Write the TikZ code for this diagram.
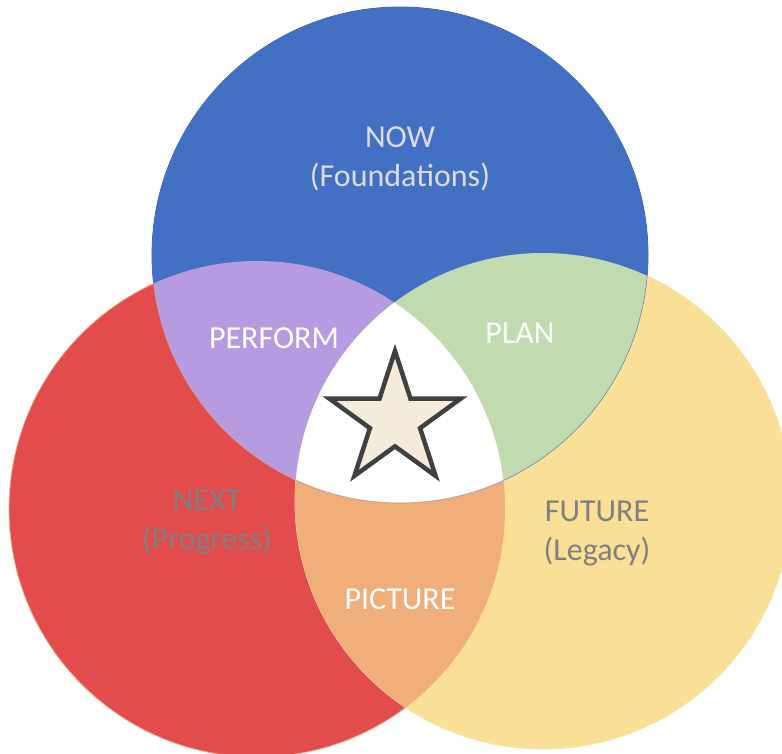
\documentclass[tikz,border=0pt]{standalone}
\usepackage{fontspec}
\setmainfont{Carlito}
\usetikzlibrary{shapes.geometric}
\definecolor{cblue}{HTML}{4470C4}
\definecolor{cblueline}{HTML}{3A62AE}
\definecolor{cred}{HTML}{E24C4C}
\definecolor{credline}{HTML}{F2B08A}
\definecolor{cyellow}{HTML}{F9E096}
\definecolor{cyellowline}{HTML}{F5E6A8}
\definecolor{cpurple}{HTML}{B79BE0}
\definecolor{cgreen}{HTML}{C2DAAF}
\definecolor{corange}{HTML}{F0AE7B}
\definecolor{cstarfill}{HTML}{F5EBDA}
\definecolor{cstarline}{HTML}{404040}
\definecolor{cnowtext}{HTML}{DADCE8}
\definecolor{cgraytext}{HTML}{808080}
\tikzset{
  lbl/.style={font=\fontsize{32}{39}\selectfont, align=center, inner sep=0pt},
}
\begin{document}
\begin{tikzpicture}[x=1pt,y=-1pt]
\useasboundingbox[fill=white] (0,0) rectangle (782,753);
\coordinate (cN) at (400,255);
\coordinate (cX) at (257,509);
\coordinate (cF) at (543,501);
\def\R{248pt}
% base circles
\fill[cblue, draw=cblueline, line width=0.8pt] (cN) circle[radius=\R];
\fill[cred, draw=credline, line width=0.8pt] (cX) circle[radius=\R];
\fill[cyellow, draw=cyellowline, line width=0.8pt] (cF) circle[radius=\R];
% the blue circle lies over red/yellow at the top
\fill[cblue] (cN) circle[radius=\R];
\begin{scope}
  \clip (cN) circle[radius=\R];
  \clip (cX) circle[radius=\R];
  \fill[cpurple] (cX) circle[radius=\R];
\end{scope}
\begin{scope}
  \clip (cN) circle[radius=\R];
  \clip (cF) circle[radius=\R];
  \fill[cgreen] (cF) circle[radius=\R];
\end{scope}
\begin{scope}
  \clip (cX) circle[radius=\R];
  \clip (cF) circle[radius=\R];
  \fill[corange] (cF) circle[radius=\R];
\end{scope}
\begin{scope}
  \clip (cN) circle[radius=\R];
  \clip (cX) circle[radius=\R];
  \clip (cF) circle[radius=\R];
  \fill[white] (cF) circle[radius=\R];
\end{scope}
% faint outer edges of the overlaps
\begin{scope}
  \clip (cF) circle[radius=\R];
  \draw[cblueline, line width=0.6pt, opacity=0.6] (cN) circle[radius=\R];
\end{scope}
\begin{scope}
  \clip (cX) circle[radius=\R];
  \draw[credline, line width=0.6pt, opacity=0.6] (cN) circle[radius=\R];
\end{scope}
% star
\node[star, star points=5, star point ratio=2.618, minimum size=138pt, inner sep=0pt,
      fill=cstarfill, draw=cstarline, line width=4.5pt] (star) at (395,420) {};
% labels
\node[lbl, text=cnowtext] (now) at (400,159) {NOW\\(Foundations)};
\node[lbl, text=white] (perform) at (274,338) {PERFORM};
\node[lbl, text=white] (plan) at (520,333) {PLAN};
\node[lbl, text=cgraytext] (next) at (207,522) {NEXT\\(Progress)};
\node[lbl, text=cgraytext] (future) at (597,533) {FUTURE\\(Legacy)};
\node[lbl, text=white] (picture) at (400,599) {PICTURE};
\end{tikzpicture}
\end{document}
